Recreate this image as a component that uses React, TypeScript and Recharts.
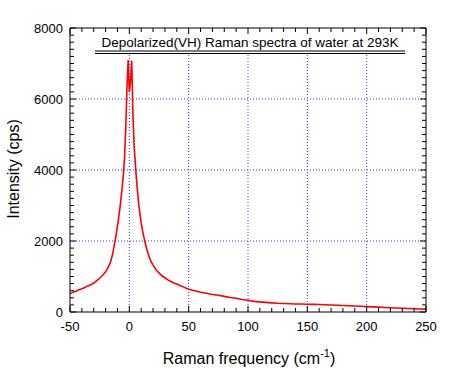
import { LineChart, Line, XAxis, YAxis, CartesianGrid } from "recharts";

// Raman shift (cm-1) and depolarized intensity (cps)
const freq = [
  -50, -47.5, -45, -42.5, -40, -37.5, -35, -32.5, -30, -27.5, -25, -22.5, -20, -18, -16, -14, -13, -12,
  -11, -10, -9, -8, -7, -6, -5, -4, -3, -2, -1, 0, 1, 2, 3, 4, 5, 6, 7, 8, 9, 10, 11, 12, 13, 14, 15, 16,
  18, 20, 22.5, 25, 27.5, 30, 32.5, 35, 37.5, 40, 42.5, 45, 47.5, 50, 55, 60, 65, 70, 75, 80, 85, 90, 95,
  100, 105, 110, 115, 120, 125, 130, 135, 140, 145, 150, 155, 160, 165, 170, 175, 180, 185, 190, 195, 200,
  205, 210, 215, 220, 225, 230, 235, 240, 245, 250,
];
const intensity = [
  510, 560, 585, 625, 655, 690, 735, 770, 815, 885, 950, 1035, 1130, 1250, 1390, 1640, 1830, 2020,
  2210, 2420, 2650, 2910, 3200, 3520, 3870, 4380, 5200, 6300, 7100, 6200, 6500, 7080, 5600, 4700, 4200,
  3750, 3350, 3010, 2750, 2510, 2310, 2150, 2000, 1860, 1730, 1620, 1440, 1320, 1190, 1100, 1020, 965,
  905, 860, 815, 790, 745, 715, 675, 640, 600, 555, 530, 495, 470, 440, 410, 385, 350, 330, 300, 285,
  270, 258, 246, 240, 232, 226, 224, 218, 216, 210, 204, 198, 190, 184, 176, 168, 160, 152, 144, 136,
  128, 120, 113, 106, 99, 93, 86, 80,
];

const xMajor = [-50, 0, 50, 100, 150, 200, 250];
const yMajor = [0, 2000, 4000, 6000, 8000];
const xTicks = Array.from({ length: 31 }, (_, i) => -50 + i * 10);
const yTicks = Array.from({ length: 41 }, (_, i) => i * 200);

const data = freq.map((x, i) => ({ x, y: intensity[i] }));

const FONT = "'Liberation Sans', Arial, sans-serif";

const bottomTick = (props: any) => {
  const { x, y, payload } = props;
  const major = xMajor.includes(payload.value);
  return (
    <g key={`b${payload.value}`}>
      <path d={`M${x},${y}V${y - (major ? 6 : 4)}`} stroke="#000" strokeWidth={1} fill="none" />
      {major && (
        <text x={x} y={y + 19} textAnchor="middle" fontSize={13} fontFamily={FONT} fill="#000">
          {payload.value}
        </text>
      )}
    </g>
  );
};

const topTick = (props: any) => {
  const { x, y, payload } = props;
  const major = xMajor.includes(payload.value);
  return (
    <path key={`t${payload.value}`} d={`M${x},${y}V${y + (major ? 6 : 4)}`} stroke="#000" strokeWidth={1} fill="none" />
  );
};

const leftTick = (props: any) => {
  const { x, y, payload } = props;
  const major = yMajor.includes(payload.value);
  return (
    <g key={`l${payload.value}`}>
      <path d={`M${x},${y}H${x + (major ? 6 : 4)}`} stroke="#000" strokeWidth={1} fill="none" />
      {major && (
        <text x={x - 7} y={y + 5} textAnchor="end" fontSize={13} fontFamily={FONT} fill="#000">
          {payload.value}
        </text>
      )}
    </g>
  );
};

const rightTick = (props: any) => {
  const { x, y, payload } = props;
  const major = yMajor.includes(payload.value);
  return (
    <path key={`r${payload.value}`} d={`M${x},${y}H${x - (major ? 6 : 4)}`} stroke="#000" strokeWidth={1} fill="none" />
  );
};

const XLabel = () => (
  <text x={249} y={364} textAnchor="middle" fontSize={16} fontFamily={FONT} fill="#000">
    Raman frequency (cm
    <tspan dy={-7} fontSize={11}>-1</tspan>
    <tspan dy={7}>)</tspan>
  </text>
);

const YLabel = () => (
  <text
    x={19}
    y={169}
    transform="rotate(-90 19 169)"
    textAnchor="middle"
    fontSize={16}
    fontFamily={FONT}
    fill="#000"
  >
    Intensity (cps)
  </text>
);

const Title = () => (
  <g>
    <rect x={93} y={28} width={314} height={26} fill="#fff" />
    <text x={250} y={47} textAnchor="middle" fontSize={13.5} fontFamily={FONT} fill="#000">
      Depolarized(VH) Raman spectra of water at 293K
    </text>
    <line x1={95} x2={405} y1={51} y2={51} stroke="#000" />
    <line x1={95} x2={405} y1={53.5} y2={53.5} stroke="#000" />
  </g>
);

export default function App() {
  return (
    <div style={{ position: "absolute", left: 0, top: 0, background: "#fff" }}>
      <LineChart width={454} height={369} data={data} margin={{ top: 27, right: 27, left: 0, bottom: 0 }}>
        <CartesianGrid
          stroke="#3333ff"
          strokeDasharray="1 2"
          horizontalValues={[2000, 4000, 6000]}
          verticalValues={[0, 50, 100, 150, 200]}
        />
        <XAxis
          dataKey="x"
          type="number"
          domain={[-50, 250]}
          ticks={xTicks}
          interval={0}
          height={57}
          tickSize={0}
          tickMargin={0}
          tickLine={false}
          tick={bottomTick}
          axisLine={{ stroke: "#000" }}
          label={{ content: () => <XLabel /> }}
        />
        <XAxis
          xAxisId="top"
          orientation="top"
          dataKey="x"
          type="number"
          domain={[-50, 250]}
          ticks={xTicks}
          interval={0}
          height={1}
          tickSize={0}
          tickMargin={0}
          tickLine={false}
          tick={topTick}
          axisLine={{ stroke: "#000" }}
        />
        <YAxis
          type="number"
          domain={[0, 8000]}
          ticks={yTicks}
          interval={0}
          width={70}
          tickSize={0}
          tickMargin={0}
          tickLine={false}
          tick={leftTick}
          axisLine={{ stroke: "#000" }}
          label={{ content: () => <YLabel /> }}
        />
        <YAxis
          yAxisId="right"
          orientation="right"
          type="number"
          domain={[0, 8000]}
          ticks={yTicks}
          interval={0}
          width={1}
          tickSize={0}
          tickMargin={0}
          tickLine={false}
          tick={rightTick}
          axisLine={{ stroke: "#000" }}
        />
        <Line
          dataKey="y"
          type="linear"
          stroke="#ff0000"
          strokeWidth={1.6}
          dot={false}
          isAnimationActive={false}
        />
        <Line
          xAxisId="top"
          yAxisId="right"
          dataKey="y"
          stroke="none"
          dot={false}
          activeDot={false}
          isAnimationActive={false}
        />
        <Title />
      </LineChart>
    </div>
  );
}
